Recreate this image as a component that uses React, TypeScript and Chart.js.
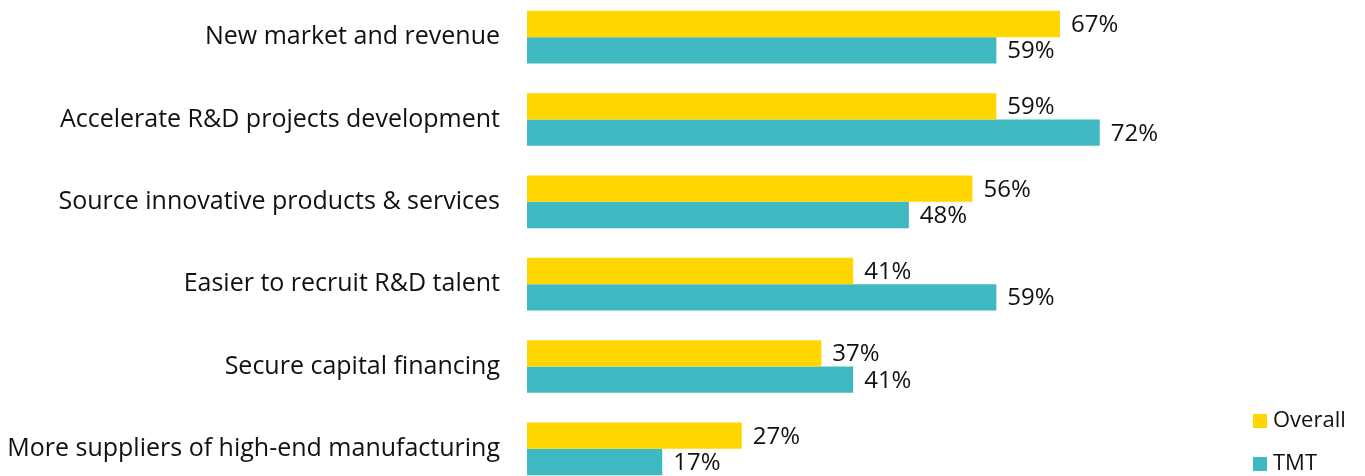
import React, { useEffect, useRef } from "react";
import { Chart, registerables } from "chart.js";

Chart.register(...registerables);

const categories = [
  "New market and revenue",
  "Accelerate R&D projects development",
  "Source innovative products & services",
  "Easier to recruit R&D talent",
  "Secure capital financing",
  "More suppliers of high-end manufacturing",
];
const overallValues = [67, 59, 56, 41, 37, 27];
const tmtValues = [59, 72, 48, 59, 41, 17];
const seriesNames = ["Overall", "TMT"];
const seriesColors = ["#FFD600", "#3FB9C1"];

const FONT = "'Open Sans', 'DejaVu Sans', sans-serif";

const valueLabels = {
  id: "valueLabels",
  afterDatasetsDraw(chart: any) {
    const ctx = chart.ctx;
    ctx.save();
    ctx.font = `24px ${FONT}`;
    ctx.fillStyle = "#111";
    ctx.textAlign = "left";
    ctx.textBaseline = "middle";
    chart.data.datasets.forEach((ds: any, i: number) => {
      const meta = chart.getDatasetMeta(i);
      meta.data.forEach((el: any, j: number) => {
        ctx.fillText(ds.data[j] + "%", el.x + 11, el.y + 1);
      });
    });
    ctx.restore();
  },
};

const sideLegend = {
  id: "sideLegend",
  afterDraw(chart: any) {
    const ctx = chart.ctx;
    ctx.save();
    ctx.font = `22px ${FONT}`;
    ctx.textAlign = "left";
    ctx.textBaseline = "middle";
    const x = chart.width - 112;
    const ys = [425, 468];
    chart.data.datasets.forEach((ds: any, i: number) => {
      const y = ys[i];
      ctx.fillStyle = ds.backgroundColor;
      ctx.fillRect(x, y - 7, 14, 14);
      ctx.fillStyle = "#111";
      ctx.fillText(ds.label, x + 20, y);
    });
    ctx.restore();
  },
};

export default function App() {
  const ref = useRef<HTMLCanvasElement | null>(null);
  useEffect(() => {
    if (!ref.current) return;
    const chart = new Chart(ref.current, {
      type: "bar",
      data: {
        labels: categories,
        datasets: [
          {
            label: seriesNames[0],
            data: overallValues,
            backgroundColor: seriesColors[0],
            categoryPercentage: 0.64,
            barPercentage: 1,
          },
          {
            label: seriesNames[1],
            data: tmtValues,
            backgroundColor: seriesColors[1],
            categoryPercentage: 0.64,
            barPercentage: 1,
          },
        ],
      },
      options: {
        indexAxis: "y",
        animation: false,
        responsive: true,
        maintainAspectRatio: false,
        layout: { padding: { left: 0, right: 42.5, top: 0, bottom: 0 } },
        plugins: {
          legend: { display: false },
          tooltip: { enabled: false },
        },
        scales: {
          x: { display: false, min: 0, max: 100 },
          y: {
            grid: { display: false, drawTicks: false },
            border: { display: false },
            ticks: {
              padding: 27,
              color: "#111",
              font: { family: FONT, size: 25 },
            },
            afterFit: (scale: any) => {
              scale.width = 527;
              scale.paddingTop = 0;
              scale.paddingBottom = 0;
            },
          },
        },
      },
      plugins: [valueLabels, sideLegend],
    });
    return () => chart.destroy();
  }, []);

  return (
    <div
      style={{
        position: "fixed",
        left: 0,
        top: 0,
        width: 1365,
        height: 476,
        overflow: "hidden",
        background: "#fff",
      }}
    >
      <div style={{ position: "absolute", left: 0, top: -4, width: 1365, height: 494 }}>
        <canvas ref={ref} />
      </div>
    </div>
  );
}
